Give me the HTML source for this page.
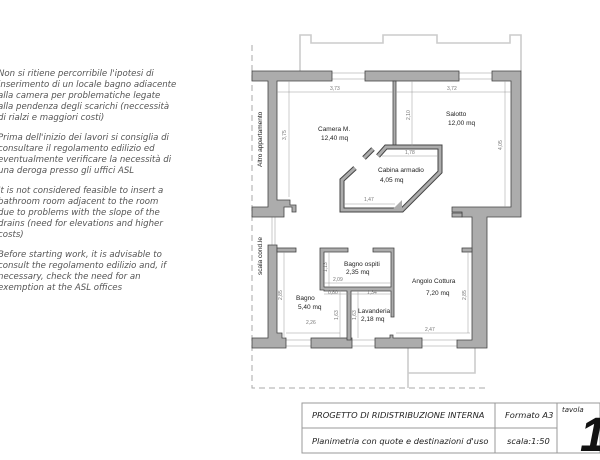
<!DOCTYPE html>
<html><head><meta charset="utf-8"><style>
html,body{margin:0;padding:0;background:#fff;}
svg{display:block;}
.n{font-family:"DejaVu Sans","Liberation Sans",sans-serif;font-style:italic;font-size:8.6px;fill:#555;}
.l{font-family:"Liberation Sans",sans-serif;font-size:6.5px;fill:#222;}
.d{font-family:"Liberation Sans",sans-serif;font-size:5px;fill:#777;}
.t{font-family:"DejaVu Sans","Liberation Sans",sans-serif;font-style:italic;font-size:8.3px;fill:#222;}
</style></head><body>
<svg width="600" height="460" viewBox="0 0 600 460" xmlns="http://www.w3.org/2000/svg">
<g class="n">
<text x="-2" y="76">Non si ritiene percorribile l'ipotesi di</text>
<text x="-2" y="87">inserimento di un locale bagno adiacente</text>
<text x="-2" y="98">alla camera per problematiche legate</text>
<text x="-2" y="109">alla pendenza degli scarichi (neccessità</text>
<text x="-2" y="120">di rialzi e maggiori costi)</text>
<text x="-2" y="140">Prima dell'inizio dei lavori si consiglia di</text>
<text x="-2" y="151">consultare il regolamento edilizio ed</text>
<text x="-2" y="162">eventualmente verificare la necessità di</text>
<text x="-2" y="173">una deroga presso gli uffici ASL</text>
<text x="-2" y="193">It is not considered feasible to insert a</text>
<text x="-2" y="204">bathroom room adjacent to the room</text>
<text x="-2" y="215">due to problems with the slope of the</text>
<text x="-2" y="226">drains (need for elevations and higher</text>
<text x="-2" y="237">costs)</text>
<text x="-2" y="257">Before starting work, it is advisable to</text>
<text x="-2" y="268">consult the regolamento edilizio and, if</text>
<text x="-2" y="279">necessary, check the need for an</text>
<text x="-2" y="290">exemption at the ASL offices</text>
</g>
<path d="M252 45 V388 H485" fill="none" stroke="#aaa" stroke-width="1" stroke-dasharray="6,4"/>
<path d="M300 71 V35 H311 V43 H383 V35 H437 V43 H510 V35 H521 V71" fill="none" stroke="#ccc" stroke-width="1.6"/>
<path d="M408 388 V348 M408 373 H475 V348" fill="none" stroke="#ccc" stroke-width="1.6"/>
<g stroke="#bbb" stroke-width="0.8" fill="none">
<path d="M332 73 H365 M332 79 H365 M459 73 H492 M459 79 H492"/>
<path d="M286 340 H311 M286 346 H311 M352 340 H375 M352 346 H375 M422 340 H457 M422 346 H457"/>
<path d="M272 217 V245 M275 217 V245"/>
</g>
<g fill="#acacac" stroke="#444" stroke-width="0.8">
<path d="M252 71 H332 V81 H277 V200 H290 V205 H296 V212 H292 V207 H284 V217 H252 V207 H268 V81 H252 Z"/>
<rect x="365" y="71" width="94" height="10"/>
<path d="M492 71 H521 V217 H487 V348 H457 V340 H472 V217 H462 V212 H452 V207 H511 V81 H492 Z"/>
<path d="M268 245 H277 V333 H282 V338 H286 V348 H252 V338 H268 Z"/>
<rect x="311" y="338" width="41" height="10"/>
<path d="M375 338 H390 V335 H393 V338 H422 V348 H375 Z"/>
<rect x="277" y="248" width="19" height="4"/>
<rect x="462" y="248" width="10" height="4"/>
<rect x="452" y="213" width="10" height="4"/>
<rect x="393" y="81" width="3" height="66"/>
<path d="M320 248 H348 V252 H324 V287 H391 V252 H373 V248 H394 V317 H391 V291 H351 V340 H347 V291 H324 V290 H320 Z"/>
</g>
<g fill="none" stroke-linejoin="miter">
<path d="M378 156 L386 147 H440 V172 L402 210 H342 V180 L355 168" stroke="#444" stroke-width="5"/>
<path d="M378 156 L386 147 H440 V172 L402 210 H342 V180 L355 168" stroke="#acacac" stroke-width="3"/>
<path d="M364 158 L373 149" stroke="#444" stroke-width="5"/>
<path d="M364 158 L373 149" stroke="#acacac" stroke-width="3"/>
</g>
<path d="M392 210 L402 200 V210 Z" fill="#acacac"/>
<g stroke="#999" stroke-width="0.5" fill="none">
<path d="M277 92 H393 M396 92 H511"/>
<path d="M289 81 V197 M412 81 V146 M505 81 V207"/>
<path d="M382 156 H438 M344 204 H395"/>
<path d="M284 252 V337 M286 333 H340 M340 290 V338 M358 291 V338"/>
<path d="M324 283 H391 M329 252 V287 M324 294 H391"/>
<path d="M396 333 H470 M468 252 V333"/>
</g>
<g class="d">
<text x="330" y="90">3,73</text><text x="447" y="90">3,72</text>
<text x="286" y="140" transform="rotate(-90 286 140)">3,75</text>
<text x="410" y="120" transform="rotate(-90 410 120)">2,10</text>
<text x="502" y="150" transform="rotate(-90 502 150)">4,05</text>
<text x="405" y="154">1,78</text><text x="364" y="201">1,47</text>
<text x="333" y="281">2,09</text><text x="327" y="272" transform="rotate(-90 327 272)">1,13</text>
<text x="328" y="294">0,80</text><text x="367" y="294">1,34</text>
<text x="282" y="300" transform="rotate(-90 282 300)">2,85</text>
<text x="338" y="320" transform="rotate(-90 338 320)">1,63</text>
<text x="356" y="320" transform="rotate(-90 356 320)">1,63</text>
<text x="306" y="324">2,26</text><text x="425" y="331">2,47</text>
<text x="466" y="300" transform="rotate(-90 466 300)">2,85</text>
</g>
<g class="l">
<text x="318" y="131">Camera M.</text><text x="321" y="140">12,40 mq</text>
<text x="446" y="116">Salotto</text><text x="448" y="125">12,00 mq</text>
<text x="378" y="172">Cabina armadio</text><text x="380" y="182">4,05 mq</text>
<text x="344" y="266">Bagno ospiti</text><text x="346" y="274">2,35 mq</text>
<text x="296" y="300">Bagno</text><text x="298" y="309">5,40 mq</text>
<text x="358" y="313">Lavanderia</text><text x="361" y="321">2,18 mq</text>
<text x="412" y="283">Angolo Cottura</text><text x="426" y="295">7,20 mq</text>
<text x="262" y="167" transform="rotate(-90 262 167)">Altro appartamento</text>
<text x="262" y="275" transform="rotate(-90 262 275)">scala cond.le</text>
</g>
<g stroke="#999" stroke-width="1" fill="none">
<rect x="302" y="403" width="298" height="50"/>
<path d="M495 403 V453 M557 403 V453 M302 428 H557"/>
</g>
<g class="t">
<text x="312" y="418">PROGETTO DI RIDISTRIBUZIONE INTERNA</text>
<text x="312" y="444">Planimetria con quote e destinazioni d'uso</text>
<text x="505" y="418">Formato A3</text>
<text x="507" y="444">scala:1:50</text>
<text x="562" y="412" style="font-size:7px">tavola</text>
</g>
<text x="580" y="451" style="font-family:'Liberation Sans',sans-serif;font-style:italic;font-weight:bold;font-size:48px;fill:#111">1</text>
</svg>
</body></html>
